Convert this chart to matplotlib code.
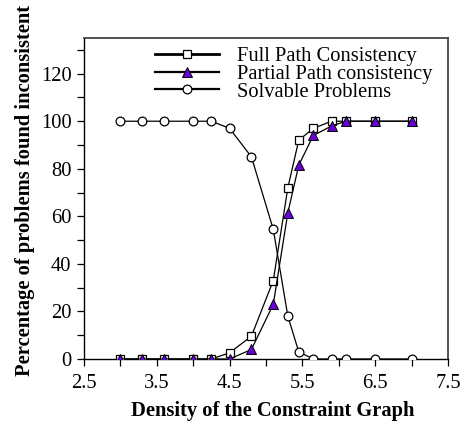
import matplotlib
matplotlib.use("Agg")
import matplotlib.pyplot as plt
from matplotlib.lines import Line2D
from matplotlib.ticker import MultipleLocator

density = [3.0, 3.3, 3.6, 4.0, 4.25, 4.5, 4.8, 5.1, 5.3, 5.45, 5.65, 5.9, 6.1, 6.5, 7.0]
full_path = [0, 0, 0, 0, 0, 2.6, 9.6, 33, 72, 92, 97, 100, 100, 100, 100]
partial_path = [0, 0, 0, 0, 0, 0, 4, 23, 61.5, 81.5, 94, 98, 100, 100, 100]
solvable = [100, 100, 100, 100, 100, 97, 85, 54.5, 18, 3, 0, 0, 0, 0, 0]

labels = ["Full Path Consistency", "Partial Path consistency", "Solvable Problems"]
xlabel = "Density of the Constraint Graph"
ylabel = "Percentage of problems found inconsistent"

plt.rcParams['font.family'] = ['Liberation Serif', 'DejaVu Serif']
fs = 14.8
ms = 6.3

fig = plt.figure(figsize=(4.66, 4.28), dpi=100)
ax = fig.add_axes([84/466, 1 - 359/428, (448-84)/466, (359-38)/428])

purple = '#6a00d8'
ax.plot(density, solvable, color='black', lw=0.9, marker='o', ms=ms,
        mfc='white', mec='black', mew=0.9, zorder=3)
ax.plot(density, full_path, color='black', lw=0.9, marker='s', ms=ms,
        mfc='white', mec='black', mew=0.9, zorder=4)
ax.plot(density, partial_path, color='black', lw=0.9, marker='^', ms=ms + 0.3,
        mfc=purple, mec='black', mew=0.7, zorder=5)

ax.set_xlim(2.5, 7.5)
ax.set_ylim(0, 135)
ax.xaxis.set_minor_locator(MultipleLocator(0.5))
ax.yaxis.set_minor_locator(MultipleLocator(10))
ax.set_xticks([2.5, 3.5, 4.5, 5.5, 6.5, 7.5])
ax.set_yticks([0, 20, 40, 60, 80, 100, 120])
ax.tick_params(axis='both', which='both', direction='out', length=5, width=0.9,
               labelsize=fs, pad=4)
ax.tick_params(axis='x', pad=6)

for side in ['left', 'bottom']:
    ax.spines[side].set_color('black')
    ax.spines[side].set_linewidth(1.0)
for side in ['top', 'right']:
    ax.spines[side].set_color('#444444')
    ax.spines[side].set_linewidth(1.3)

ax.set_xlabel(xlabel, fontsize=fs, fontweight='bold')
ax.xaxis.set_label_coords((273 - 84) / 364, -(411 - 359) / 321)
ax.xaxis.label.set_va('center')
fig.text(25/466, 1 - 376/428, ylabel, fontsize=fs, fontweight='bold',
         rotation=90, ha='center', va='bottom')

handles = [
    Line2D([], [], color='black', lw=2.0, marker='s', ms=ms, mfc='white', mec='black', mew=0.9),
    Line2D([], [], color='black', lw=1.6, marker='^', ms=ms + 0.3, mfc=purple, mec='black', mew=0.7),
    Line2D([], [], color='black', lw=1.6, marker='o', ms=ms, mfc='white', mec='black', mew=0.9),
]
leg = ax.legend(handles, labels, loc='upper left', bbox_to_anchor=(0.195, 0.973),
                frameon=False, fontsize=fs, handlelength=3.1, handletextpad=0.9,
                labelspacing=-0.08, borderaxespad=0, borderpad=0)

fig.savefig('out.png', dpi=100)
